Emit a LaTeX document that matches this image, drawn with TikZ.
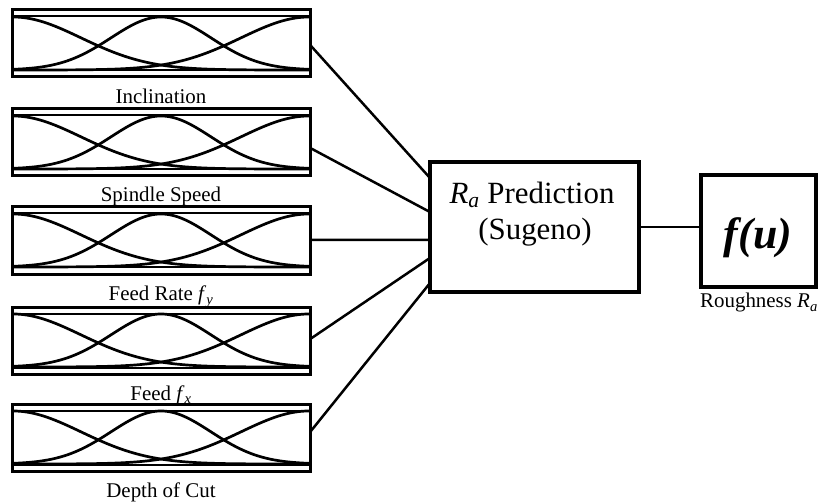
\documentclass[tikz,border=0pt]{standalone}
\usepackage{fontspec}
\setmainfont{Liberation Serif}
\usetikzlibrary{calc}
\begin{document}
\begin{tikzpicture}[x=1bp,y=-1bp,
  inbox/.style={draw, line width=3bp, rectangle, minimum width=298bp, minimum height=67bp, inner sep=0pt, outer sep=0pt, anchor=north west},
  innerline/.style={line width=2bp},
  mf/.style={line width=2.7bp},
  conn/.style={line width=2.5bp},
  bigbox/.style={draw, line width=3.5bp, rectangle, inner sep=0pt, outer sep=0pt, anchor=north west},
  lab/.style={font=\fontsize{21}{24}\selectfont, anchor=base, inner sep=0pt},
  maintext/.style={font=\fontsize{31}{34}\selectfont, anchor=base, inner sep=0pt}
]
\useasboundingbox (0,0) rectangle (819,502);
\foreach \i/\t in {1/10,2/109,3/207,4/307,5/404}{
  \node[inbox] (in\i) at (12,\t) {};
  \draw[innerline] (12,{\t+6.5}) -- (310,{\t+6.5});
  \draw[innerline] (12,{\t+60.5}) -- (310,{\t+60.5});
  \begin{scope}
    \clip (12,\t) rectangle (310,{\t+67});
    \draw[mf] plot[domain=12:310, samples=120, smooth] (\x, {\t+7+53*(1-exp(-0.5*((\x-13)/68)*((\x-13)/68)))});
    \draw[mf] plot[domain=12:310, samples=120, smooth] (\x, {\t+7+53*(1-exp(-0.5*((\x-161)/50)*((\x-161)/50)))});
    \draw[mf] plot[domain=12:310, samples=120, smooth] (\x, {\t+7+53*(1-exp(-0.5*((\x-309)/68)*((\x-309)/68)))});
  \end{scope}
}
\node[lab] (l1) at (161,104) {Inclination};
\node[lab] (l2) at (161,202) {Spindle Speed};
\node[lab] (l3) at (161,301) {Feed Rate \textit{f}\textsubscript{\textit{y}}};
\node[lab] (l4) at (161,400) {Feed \textit{f}\textsubscript{\textit{x}}};
\node[lab] (l5) at (161,497) {Depth of Cut};

\node[bigbox, minimum width=209bp, minimum height=130bp] (ra) at (430,162) {};
\node[maintext] (ra1) at (532,204) {\textit{R}\textsubscript{\textit{a}} Prediction};
\node[maintext] (ra2) at (535,240) {(Sugeno)};

\node[bigbox, minimum width=115bp, minimum height=112bp] (fu) at (701,175) {};
\node[font=\fontsize{44}{48}\selectfont\bfseries\itshape, inner sep=0pt] (fut) at (758,238) {f(u)};
\node[lab] (rl) at (759,308) {Roughness \textit{R}\textsubscript{\textit{a}}};

\draw[conn] ($(in1.north east)!0.52!(in1.south east)$) -- ($(ra.north west)!0.123!(ra.south west)$);
\draw[conn] ($(in2.north east)!0.58!(in2.south east)$) -- ($(ra.north west)!0.385!(ra.south west)$);
\draw[conn] ($(in3.north east)!0.49!(in3.south east)$) -- ($(ra.north west)!0.6!(ra.south west)$);
\draw[conn] ($(in4.north east)!0.48!(in4.south east)$) -- ($(ra.north west)!0.738!(ra.south west)$);
\draw[conn] ($(in5.north east)!0.42!(in5.south east)$) -- ($(ra.north west)!0.931!(ra.south west)$);
\draw[conn] (ra.east) -- (ra.east -| fu.west);
\end{tikzpicture}
\end{document}
